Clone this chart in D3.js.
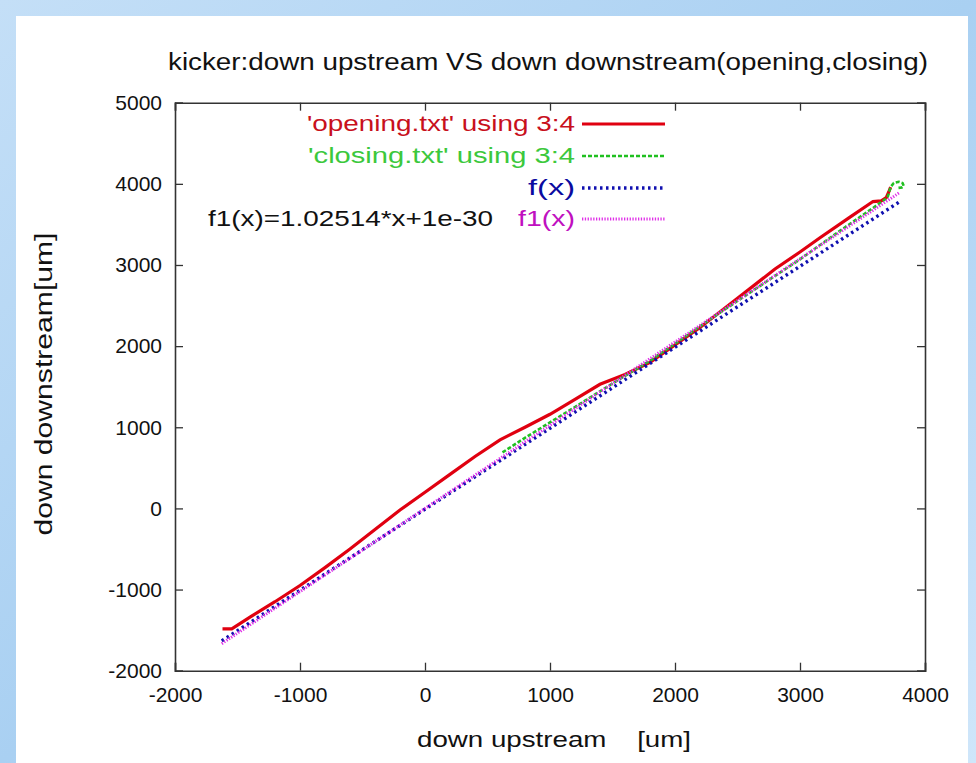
<!DOCTYPE html>
<html>
<head>
<meta charset="utf-8">
<script src="https://cdn.jsdelivr.net/npm/d3@7"></script>
<style>
body { margin: 0; padding: 0; overflow: hidden; }
svg { display: block; font-family: "Liberation Sans", Arial, sans-serif; }
</style>
</head>
<body>
<svg id="chart" width="976" height="763"></svg>
<script>
// opening.txt (columns 3:4)
var openX = [-1620, -1546, -1400, -1200, -1000, -800, -600, -400, -200, 0, 200, 400, 600, 800, 1000, 1200, 1400, 1600, 1800, 2000, 2200, 2500, 2800, 3000, 3160, 3400, 3584, 3650, 3690, 3710, 3725]
var openY = [-1484, -1484, -1340, -1150, -950, -730, -500, -260, -20, 200, 420, 640, 845, 1000, 1160, 1345, 1530, 1650, 1800, 2015, 2230, 2590, 2950, 3160, 3335, 3590, 3782, 3790, 3830, 3900, 3960]

// closing.txt (columns 3:4)
var closeX = [620, 800, 1000, 1200, 1500, 1800, 2000, 2300, 2600, 3000, 3300, 3600, 3700, 3725, 3750, 3790, 3820, 3830, 3815, 3785]
var closeY = [690, 870, 1060, 1250, 1540, 1820, 2030, 2350, 2660, 3070, 3400, 3720, 3830, 3960, 4010, 4025, 4010, 3975, 3955, 3950]

// fitted functions, drawn over the data range
var fnX = [-1626, 3800]
var fA = 0.998, fB = -10
var f1A = 1.02514, f1B = 1e-30

var xTicks = [-2000, -1000, 0, 1000, 2000, 3000, 4000]
var yTicks = [-2000, -1000, 0, 1000, 2000, 3000, 4000, 5000]

var legendLabels = ["'opening.txt' using 3:4", "'closing.txt' using 3:4", "f(x)", "f1(x)"]
var legendText = ["#c8101c", "#3cc83c", "#0a0aa0", "#c010c0"]
var legendWidths = [268, 267, 47, 57]

var svg = d3.select("#chart")

// slide background
var defs = svg.append("defs")
var grad = defs.append("linearGradient").attr("id", "bg").attr("x1", 0).attr("y1", 0).attr("x2", 1).attr("y2", 1)
grad.append("stop").attr("offset", "0%").attr("stop-color", "#c4dff7")
grad.append("stop").attr("offset", "50%").attr("stop-color", "#a9d0f2")
grad.append("stop").attr("offset", "100%").attr("stop-color", "#cfe6fa")
svg.append("rect").attr("width", 976).attr("height", 763).attr("fill", "url(#bg)")
svg.append("rect").attr("x", 16).attr("y", 16).attr("width", 952).attr("height", 760).attr("fill", "white")

var x = d3.scaleLinear().domain([-2000, 4000]).range([175, 925])
var y = d3.scaleLinear().domain([-2000, 5000]).range([670.7, 102.7])

// axes, ticks inward on all four sides
var tk = 8
var fmt = function(d) { return String(d) }
svg.append("g").attr("transform", "translate(0,670.7)")
  .call(d3.axisBottom(x).tickValues(xTicks).tickSize(-tk).tickPadding(16).tickFormat(fmt))
svg.append("g").attr("transform", "translate(0,102.7)")
  .call(d3.axisTop(x).tickValues(xTicks).tickSize(-tk).tickFormat(""))
svg.append("g").attr("transform", "translate(175,0)")
  .call(d3.axisLeft(y).tickValues(yTicks).tickSize(-tk).tickPadding(13).tickFormat(fmt))
svg.append("g").attr("transform", "translate(925,0)")
  .call(d3.axisRight(y).tickValues(yTicks).tickSize(-tk).tickFormat(""))
svg.selectAll(".domain").attr("stroke", "#333").attr("stroke-width", 1.6)
svg.selectAll(".tick line").attr("stroke", "#333").attr("stroke-width", 1.3)
svg.selectAll(".tick text").attr("font-size", "21px").attr("fill", "#111").attr("font-family", "Liberation Sans, Arial, sans-serif")

// titles
svg.append("text").attr("x", 548).attr("y", 70).attr("text-anchor", "middle")
  .attr("textLength", 760).attr("lengthAdjust", "spacingAndGlyphs")
  .style("font-size", "23px").attr("fill", "#111")
  .text("kicker:down upstream VS down downstream(opening,closing)")
svg.append("text").attr("x", 554).attr("y", 747).attr("text-anchor", "middle")
  .attr("textLength", 274).attr("lengthAdjust", "spacingAndGlyphs").attr("xml:space", "preserve")
  .style("font-size", "22px").attr("fill", "#111")
  .text("down upstream    [um]")
svg.append("text").attr("transform", "translate(52,384) rotate(-90)").attr("text-anchor", "middle")
  .attr("textLength", 303).attr("lengthAdjust", "spacingAndGlyphs")
  .style("font-size", "23px").attr("fill", "#111")
  .text("down downstream[um]")

var line = d3.line().x(function(d) { return x(d[0]) }).y(function(d) { return y(d[1]) })

var openData = d3.zip(openX, openY)
var closeData = d3.zip(closeX, closeY)
var fData = fnX.map(function(v) { return [v, fA * v + fB] })
var f1Data = fnX.map(function(v) { return [v, f1A * v + f1B] })

var styles = [
  {color: "#e00010", width: 3.2, dash: null},
  {color: "#20c020", width: 2.6, dash: "4,2"},
  {color: "#1010b0", width: 3.4, dash: "2.5,3.5"},
  {color: "#e030e8", width: 3, dash: "1.3,1.5"}
]
var series = [openData, closeData, fData, f1Data]

series.forEach(function(s, i) {
  svg.append("path").datum(s).attr("d", line).attr("fill", "none")
    .attr("stroke", styles[i].color).attr("stroke-width", styles[i].width)
    .attr("stroke-dasharray", styles[i].dash)
})

// legend
var legY = [124, 156, 188, 219]
legendLabels.forEach(function(t, i) {
  svg.append("text").attr("x", 575).attr("y", legY[i] + 7).attr("text-anchor", "end")
    .attr("textLength", legendWidths[i]).attr("lengthAdjust", "spacingAndGlyphs")
    .style("font-size", "22px").attr("fill", legendText[i]).text(t)
  svg.append("line").attr("x1", 582).attr("x2", 665).attr("y1", legY[i]).attr("y2", legY[i])
    .attr("stroke", styles[i].color).attr("stroke-width", styles[i].width)
    .attr("stroke-dasharray", styles[i].dash)
})

svg.append("text").attr("x", 208).attr("y", legY[3] + 7)
  .attr("textLength", 285).attr("lengthAdjust", "spacingAndGlyphs")
  .style("font-size", "22px").attr("fill", "#111")
  .text("f1(x)=1.02514*x+1e-30")
</script>
</body>
</html>
